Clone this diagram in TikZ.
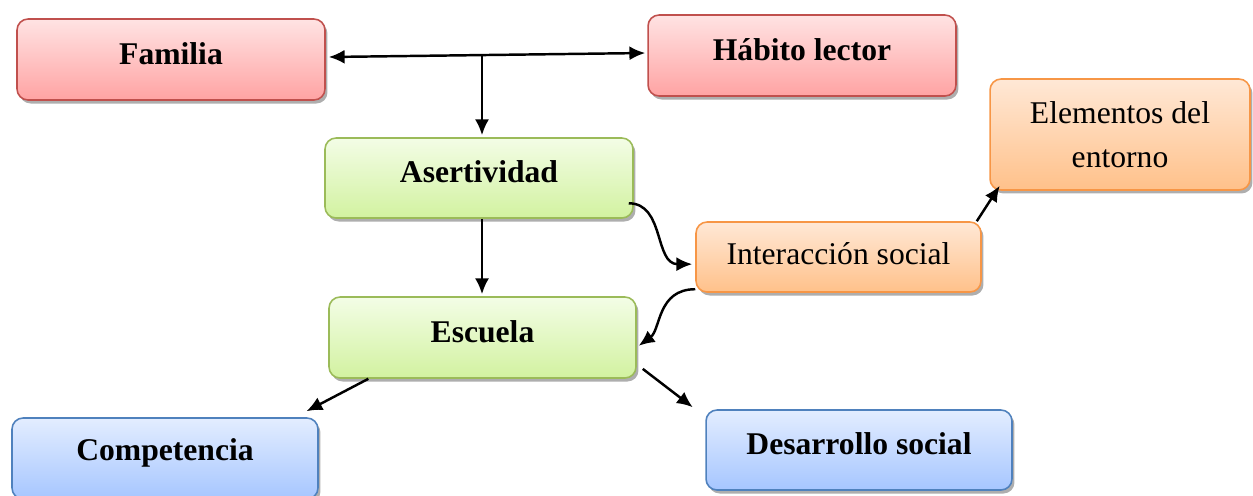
\documentclass[tikz,border=0pt]{standalone}
\usepackage{fontspec}
\setmainfont{Liberation Serif}
\usetikzlibrary{arrows.meta,shadows,calc}
\definecolor{redB}{HTML}{C0504D}
\definecolor{redT}{HTML}{FFE3E3}
\definecolor{redD}{HTML}{FFA3A3}
\definecolor{grnB}{HTML}{9BBB59}
\definecolor{grnT}{HTML}{F3FDE6}
\definecolor{grnD}{HTML}{D2F2A0}
\definecolor{orgB}{HTML}{F79646}
\definecolor{orgT}{HTML}{FFE8D6}
\definecolor{orgD}{HTML}{FFC18A}
\definecolor{bluB}{HTML}{4F81BD}
\definecolor{bluT}{HTML}{E3EDFF}
\definecolor{bluD}{HTML}{A6C6FF}
\tikzset{
  box/.style={rectangle, rounded corners=0.22cm, line width=0.9pt,
    drop shadow={shadow xshift=0.05cm, shadow yshift=-0.07cm, fill=black!45, opacity=0.7}},
  lab/.style={font=\fontsize{18}{25}\selectfont, align=center},
  redbox/.style={box, draw=redB, top color=redT, bottom color=redD},
  grnbox/.style={box, draw=grnB, top color=grnT, bottom color=grnD},
  orgbox/.style={box, draw=orgB, top color=orgT, bottom color=orgD},
  blubox/.style={box, draw=bluB, top color=bluT, bottom color=bluD},
  tip/.tip={Latex[length=9pt,width=8pt]},
  conn/.style={line width=1.4pt, -tip},
}
\begin{document}
\begin{tikzpicture}[x=0.02cm,y=-0.02cm]
\useasboundingbox (0,0) rectangle (1253,495);
\node[redbox, label={[lab, yshift=0.12cm]center:\textbf{Familia}}, minimum width=6.16cm, minimum height=1.62cm] (fam) at (171,59.5) {};
\node[redbox, label={[lab, yshift=0.12cm]center:\textbf{Hábito lector}}, minimum width=6.16cm, minimum height=1.62cm] (hab) at (802,55.5) {};
\node[grnbox, label={[lab, yshift=0.12cm]center:\textbf{Asertividad}}, minimum width=6.16cm, minimum height=1.60cm] (ase) at (479,178) {};
\node[orgbox, label={[lab, yshift=-0.01cm]center:Elementos del\\entorno}, minimum width=5.2cm, minimum height=2.22cm] (ele) at (1120,134.5) {};
\node[orgbox, label={[lab, yshift=0.06cm]center:Interacción social}, minimum width=5.7cm, minimum height=1.40cm] (int) at (838.5,257) {};
\node[grnbox, label={[lab, yshift=0.12cm]center:\textbf{Escuela}}, minimum width=6.14cm, minimum height=1.62cm] (esc) at (482.5,337.5) {};
\node[blubox, label={[lab, yshift=0.12cm]center:\textbf{Competencia}}, minimum width=6.12cm, minimum height=1.62cm] (com) at (165,458.5) {};
\node[blubox, label={[lab, yshift=0.12cm]center:\textbf{Desarrollo social}}, minimum width=6.12cm, minimum height=1.60cm] (des) at (859,450) {};
% connectors
\coordinate (j) at (482,55.5);
\draw[line width=1.4pt, tip-tip] ([xshift=0.06cm,yshift=0.05cm]fam.east) -- ([xshift=-0.04cm,yshift=0.05cm]hab.west);
\draw[conn] (j) -- ([yshift=0.04cm]ase.north -| j);
\draw[conn] (ase.south -| j) -- ([yshift=0.04cm]esc.north -| j);
\draw[conn] ($(ase.south east)!0.19!(ase.north east)+(-0.1cm,0)$) .. controls +(36,0) and +(-38,0) .. ($(int.north west)!0.6!(int.south west)+(-0.06cm,0)$);
\draw[conn] ($(int.north west)!0.95!(int.south west)$) .. controls +(-38,0) and +(22,-16) .. ($(esc.north east)!0.6!(esc.south east)+(0.04cm,0)$);
\draw[conn] ($(int.north east)+(-0.1cm,0)$) -- ($(ele.south west)!0.04!(ele.south east)+(0,0.1cm)$);
\draw[conn] ($(esc.south west)!0.13!(esc.south east)$) -- ($(com.north east)!0.04!(com.north west)+(0,0.12cm)$);
\draw[conn] ($(esc.south east)!0.12!(esc.north east)+(0.12cm,0)$) -- ($(des.north west)+(-0.25cm,0.04cm)$);
\end{tikzpicture}
\end{document}
